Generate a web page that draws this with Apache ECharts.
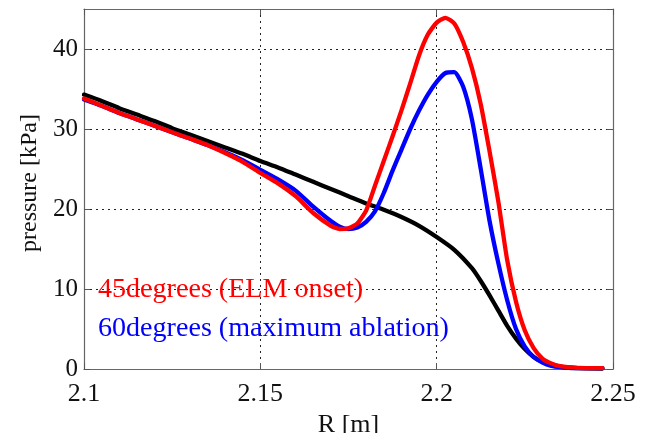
<!DOCTYPE html>
<html>
<head>
<meta charset="utf-8">
<script src="https://cdn.jsdelivr.net/npm/echarts@6/dist/echarts.min.js"></script>
<style>
  html, body { margin: 0; padding: 0; background: #fff; }
  #chart { width: 650px; height: 433px; }
</style>
</head>
<body>
<div id="chart"></div>
<script>
// Pressure profiles along major radius R [m]
const xTickLabels = ['2.1', '2.15', '2.2', '2.25'];
const yTickLabels = ['0', '10', '20', '30', '40'];

// reference profile (black)
const rBlack = [2.100, 2.105, 2.110, 2.115, 2.120, 2.125, 2.130, 2.135, 2.140, 2.145,
  2.150, 2.155, 2.160, 2.165, 2.170, 2.175, 2.180, 2.185, 2.190, 2.195,
  2.200, 2.205, 2.210, 2.2125, 2.215, 2.2175, 2.220, 2.2225, 2.225, 2.2275,
  2.230, 2.235, 2.240, 2.247];
const pBlack = [34.3, 33.5, 32.6, 31.8, 31.0, 30.1, 29.3, 28.5, 27.7, 26.9,
  26.0, 25.2, 24.3, 23.4, 22.5, 21.6, 20.7, 19.9, 19.0, 17.9,
  16.5, 14.9, 12.6, 11.0, 9.2, 7.3, 5.4, 3.8, 2.5, 1.5,
  0.9, 0.3, 0.1, 0.05];

// shared R samples for the 45 and 60 degree profiles
const rPellet = [2.100, 2.105, 2.110, 2.115, 2.120, 2.125, 2.130, 2.135, 2.140, 2.145,
  2.150, 2.155, 2.160, 2.165, 2.170, 2.1725, 2.175, 2.1775, 2.180, 2.1825,
  2.185, 2.1875, 2.190, 2.1925, 2.195, 2.1975, 2.200, 2.2025, 2.205, 2.2075,
  2.210, 2.2125, 2.215, 2.2175, 2.220, 2.2225, 2.225, 2.2275, 2.230, 2.2325,
  2.235, 2.240, 2.247];

// 45degrees (ELM onset)
const p45 = [33.8, 32.9, 32.0, 31.2, 30.4, 29.6, 28.8, 28.0, 27.0, 25.9,
  24.5, 23.2, 21.6, 19.5, 17.9, 17.5, 17.6, 18.2, 19.8, 22.9,
  26.0, 29.1, 32.3, 35.7, 39.2, 41.8, 43.3, 43.9, 43.2, 40.9,
  37.6, 33.1, 27.2, 20.9, 13.6, 8.4, 4.8, 2.6, 1.3, 0.7,
  0.35, 0.15, 0.1];

// 60degrees (maximum ablation)
const p60 = [33.7, 32.9, 32.0, 31.2, 30.4, 29.6, 28.8, 28.0, 27.1, 26.1,
  24.9, 23.7, 22.3, 20.3, 18.5, 17.8, 17.5, 17.7, 18.4, 19.7,
  22.0, 24.8, 27.4, 30.0, 32.3, 34.3, 35.9, 37.0, 37.1, 35.3,
  31.2, 25.0, 18.5, 13.2, 8.6, 5.0, 2.8, 1.5, 0.8, 0.4,
  0.25, 0.1, 0.1];

const legend45 = '45degrees (ELM onset)';
const legend60 = '60degrees (maximum ablation)';

const zip = (xs, ys) => xs.map((x, i) => [x, ys[i]]);

const serif = 'Liberation Serif';
const gridLine = { show: true, lineStyle: { color: '#222', type: [2, 4], width: 1 } };
const tickIn = { show: true, inside: true, length: 6, lineStyle: { color: '#555' } };
const boxLine = { show: true, onZero: false, lineStyle: { color: '#666', width: 1.2 } };

const chart = echarts.init(document.getElementById('chart'), null, { renderer: 'canvas' });

function line(data, color, z) {
  return {
    type: 'line', data: data, showSymbol: false, symbol: 'none',
    smooth: 0.2, z: z,
    lineStyle: { color: color, width: 4.3, join: 'round', cap: 'round' }, animation: false
  };
}

chart.setOption({
  animation: false,
  backgroundColor: '#fff',
  textStyle: { fontFamily: serif },
  grid: {
    left: 84, right: 37, top: 9, bottom: 64, show: false,
    containLabel: false, outerBoundsMode: 'none'
  },
  xAxis: [{
    type: 'value', min: 2.1, max: 2.25, interval: 0.05, position: 'bottom',
    name: 'R [m]', nameLocation: 'middle', nameGap: 39,
    nameTextStyle: { fontFamily: serif, fontSize: 26, color: '#111' },
    axisLine: boxLine, axisTick: tickIn, splitLine: gridLine,
    axisLabel: {
      margin: 12, fontFamily: serif, fontSize: 26, color: '#111',
      formatter: (v, i) => xTickLabels[i]
    }
  }, {
    type: 'value', min: 2.1, max: 2.25, interval: 0.05, position: 'top',
    axisLine: boxLine, axisTick: tickIn, splitLine: { show: false },
    axisLabel: { show: false }
  }],
  yAxis: [{
    type: 'value', min: 0, max: 45, interval: 10, position: 'left',
    name: 'pressure [kPa]', nameLocation: 'middle', nameGap: 38,
    nameTextStyle: { fontFamily: serif, fontSize: 24, color: '#111', padding: [0, 0, 0, 12] },
    axisLine: boxLine, axisTick: tickIn, splitLine: gridLine,
    axisLabel: {
      margin: 6, fontFamily: serif, fontSize: 25, color: '#111', showMaxLabel: false,
      padding: [7, 0, 0, 0],
      formatter: (v, i) => (i < yTickLabels.length ? yTickLabels[i] : '')
    }
  }, {
    type: 'value', min: 0, max: 45, interval: 10, position: 'right',
    axisLine: boxLine, axisTick: tickIn, splitLine: { show: false },
    axisLabel: { show: false }
  }],
  graphic: [{
    type: 'text', left: 98, top: 276, z: 100, scaleX: 1.04,
    style: { text: legend45, fill: '#ff0000', fontFamily: serif, fontSize: 27 }
  }, {
    type: 'text', left: 98, top: 315, z: 100, scaleX: 1.04,
    style: { text: legend60, fill: '#0000ff', fontFamily: serif, fontSize: 27 }
  }],
  series: [
    line(zip(rBlack, pBlack), '#000000', 2),
    line(zip(rPellet, p60), '#0000ff', 3),
    line(zip(rPellet, p45), '#ff0000', 4)
  ]
});
</script>
</body>
</html>
